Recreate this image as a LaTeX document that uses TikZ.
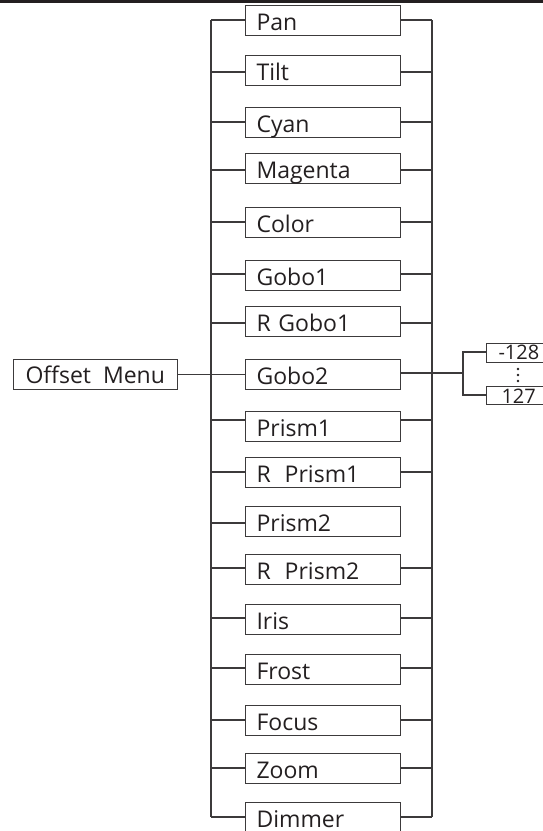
\documentclass[tikz,border=0pt]{standalone}
\usepackage{fontspec}
\setmainfont{Open Sans}
\definecolor{linec}{HTML}{3C3A3B}
\definecolor{textc}{HTML}{231F20}
\begin{document}
\begin{tikzpicture}[x=1pt,y=-1pt,
  line/.style={line width=1.1pt, draw=linec},
  item/.style={draw=linec, line width=1.1pt, anchor=north west, inner xsep=11pt, inner ysep=0pt,
    text width=133pt, align=left, text height=25pt, text depth=5pt,
    font=\fontsize{23}{23}\selectfont, text=textc},
  small/.style={draw=linec, line width=1.1pt, anchor=north west, inner ysep=0pt,
    text width=60pt, align=left, font=\fontsize{20}{20}\selectfont, text=textc}]
\useasboundingbox (0,0) rectangle (543,831);
\fill[textc] (0,0) rectangle (543,3);
% menu items: name/label/top/connector y/left?/right?
\foreach \n/\t/\tp/\cy/\hl/\hr in {
  pan/Pan/5/20/1/1,
  tilt/Tilt/55/72/1/1,
  cyan/Cyan/107/122/1/1,
  magenta/Magenta/153/170/1/1,
  color/Color/207/222/1/1,
  gobo1/Gobo1/260/274/1/1,
  rgoboone/{R Gobo1}/306/323/1/1,
  gobo2/Gobo2/359/373/0/1,
  prism1/Prism1/411/420/1/1,
  rprism1/{R\hspace{14pt}Prism1}/457/472/1/1,
  prism2/Prism2/506/523/1/0,
  rprism2/{R\hspace{14pt}Prism2}/554/568/1/1,
  iris/Iris/604/618/1/1,
  frost/Frost/654/668/1/1,
  focus/Focus/705/720/1/1,
  zoom/Zoom/753/768/1/1,
  dimmer/Dimmer/802/817/1/1}{
  \node[item] (\n) at (245,\tp) {\t};
  \coordinate (l\n) at (211,\cy);
  \coordinate (r\n) at (432,\cy);
  \ifnum\hl=1 \draw[line] (l\n) -- (l\n -| \n.west); \fi
  \ifnum\hr=1 \draw[line] (\n.east |- r\n) -- (r\n); \fi
}
% buses
\draw[line] (lpan) -- (ldimmer);
\draw[line] (rpan) -- (rdimmer);
% offset menu
\node[item, text width=152pt, inner xsep=6pt, text height=24pt, text depth=6pt] (menu) at (13,359) {\hspace*{6pt}Offset\hspace{12pt}Menu};
\draw[line] (menu.east) -- (menu.east -| gobo2.west);
% value range
\node[small, inner xsep=12pt, text height=16pt, text depth=3pt] (m128) at (486,343) {-128};
\node[small, inner xsep=15pt, text height=17pt, text depth=1pt] (p127) at (486,386) {127};
\coordinate (sb) at (463,373);
\coordinate (sbt) at (463,352);
\coordinate (sbb) at (463,395);
\draw[line] (gobo2.east |- sb) -- (sb);
\draw[line] (m128.west |- sbt) -- (sbt) -- (sbb) -- (p127.west |- sbb);
\foreach \yy in {369,375,381} \fill[textc] (518,\yy) circle (1.4pt);
\end{tikzpicture}
\end{document}
